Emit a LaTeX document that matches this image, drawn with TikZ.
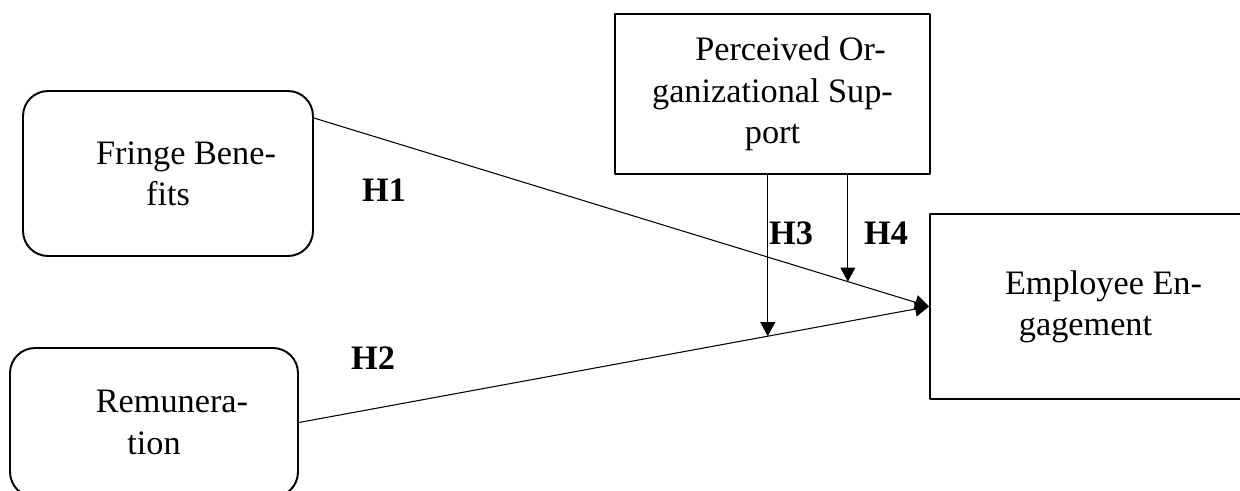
\documentclass[tikz,border=0pt]{standalone}
\usepackage{fontspec}
\setmainfont{Liberation Serif}
\usetikzlibrary{arrows.meta,calc}

\begin{document}
\begin{tikzpicture}[x=0.02cm,y=-0.02cm,line cap=round,line join=round,>={Triangle[length=8pt,width=8.5pt]},
    varbox/.style={draw=black,line width=1.1pt,inner sep=0pt,align=center,font=\fontsize{19.5}{23.5}\selectfont},
    roundbox/.style={varbox,rounded corners=0.5cm},
    hyp/.style={font=\fontsize{19.5}{23.5}\selectfont\bfseries,inner sep=0pt},
    path/.style={line width=0.6pt,->}]
    \useasboundingbox (0,0) rectangle (1240,490);
    \clip (0,0) rectangle (1240,490);
    \node[roundbox,minimum width=5.8cm,minimum height=3.3cm] (fb) at (168,173.5) {\hspace*{0.72cm}Fringe Bene-\\fits};
    \node[roundbox,minimum width=5.76cm,minimum height=2.98cm] (rem) at (154,422.5) {\hspace*{0.72cm}Remunera-\\tion};
    \node[varbox,minimum width=6.3cm,minimum height=3.2cm] (pos) at (772.5,94) {\hspace*{0.72cm}Perceived Or-\\ganizational Sup-\\port};
    \node[varbox,minimum width=6.22cm,minimum height=3.7cm] (ee) at (1085.5,306.5) {\hspace*{0.72cm}Employee En-\\gagement};
    \coordinate (fbout) at ([yshift=1.11cm]fb.east);
    \draw[path] (fbout) -- (ee.west);
    \draw[path] (rem.east) -- (ee.west);
    \coordinate (m3) at ($(rem.east)!0.744!(ee.west)$);
    \coordinate (m4) at ($(fbout)!0.868!(ee.west)$);
    \draw[path] (m3 |- pos.south) -- (m3);
    \draw[path] (m4 |- pos.south) -- (m4);
    \node[hyp] (h1) at (384,190) {H1};
    \node[hyp] (h2) at (373,358) {H2};
    \node[hyp] (h3) at (791,233) {H3};
    \node[hyp] (h4) at (886,233) {H4};
\end{tikzpicture}
\end{document}
